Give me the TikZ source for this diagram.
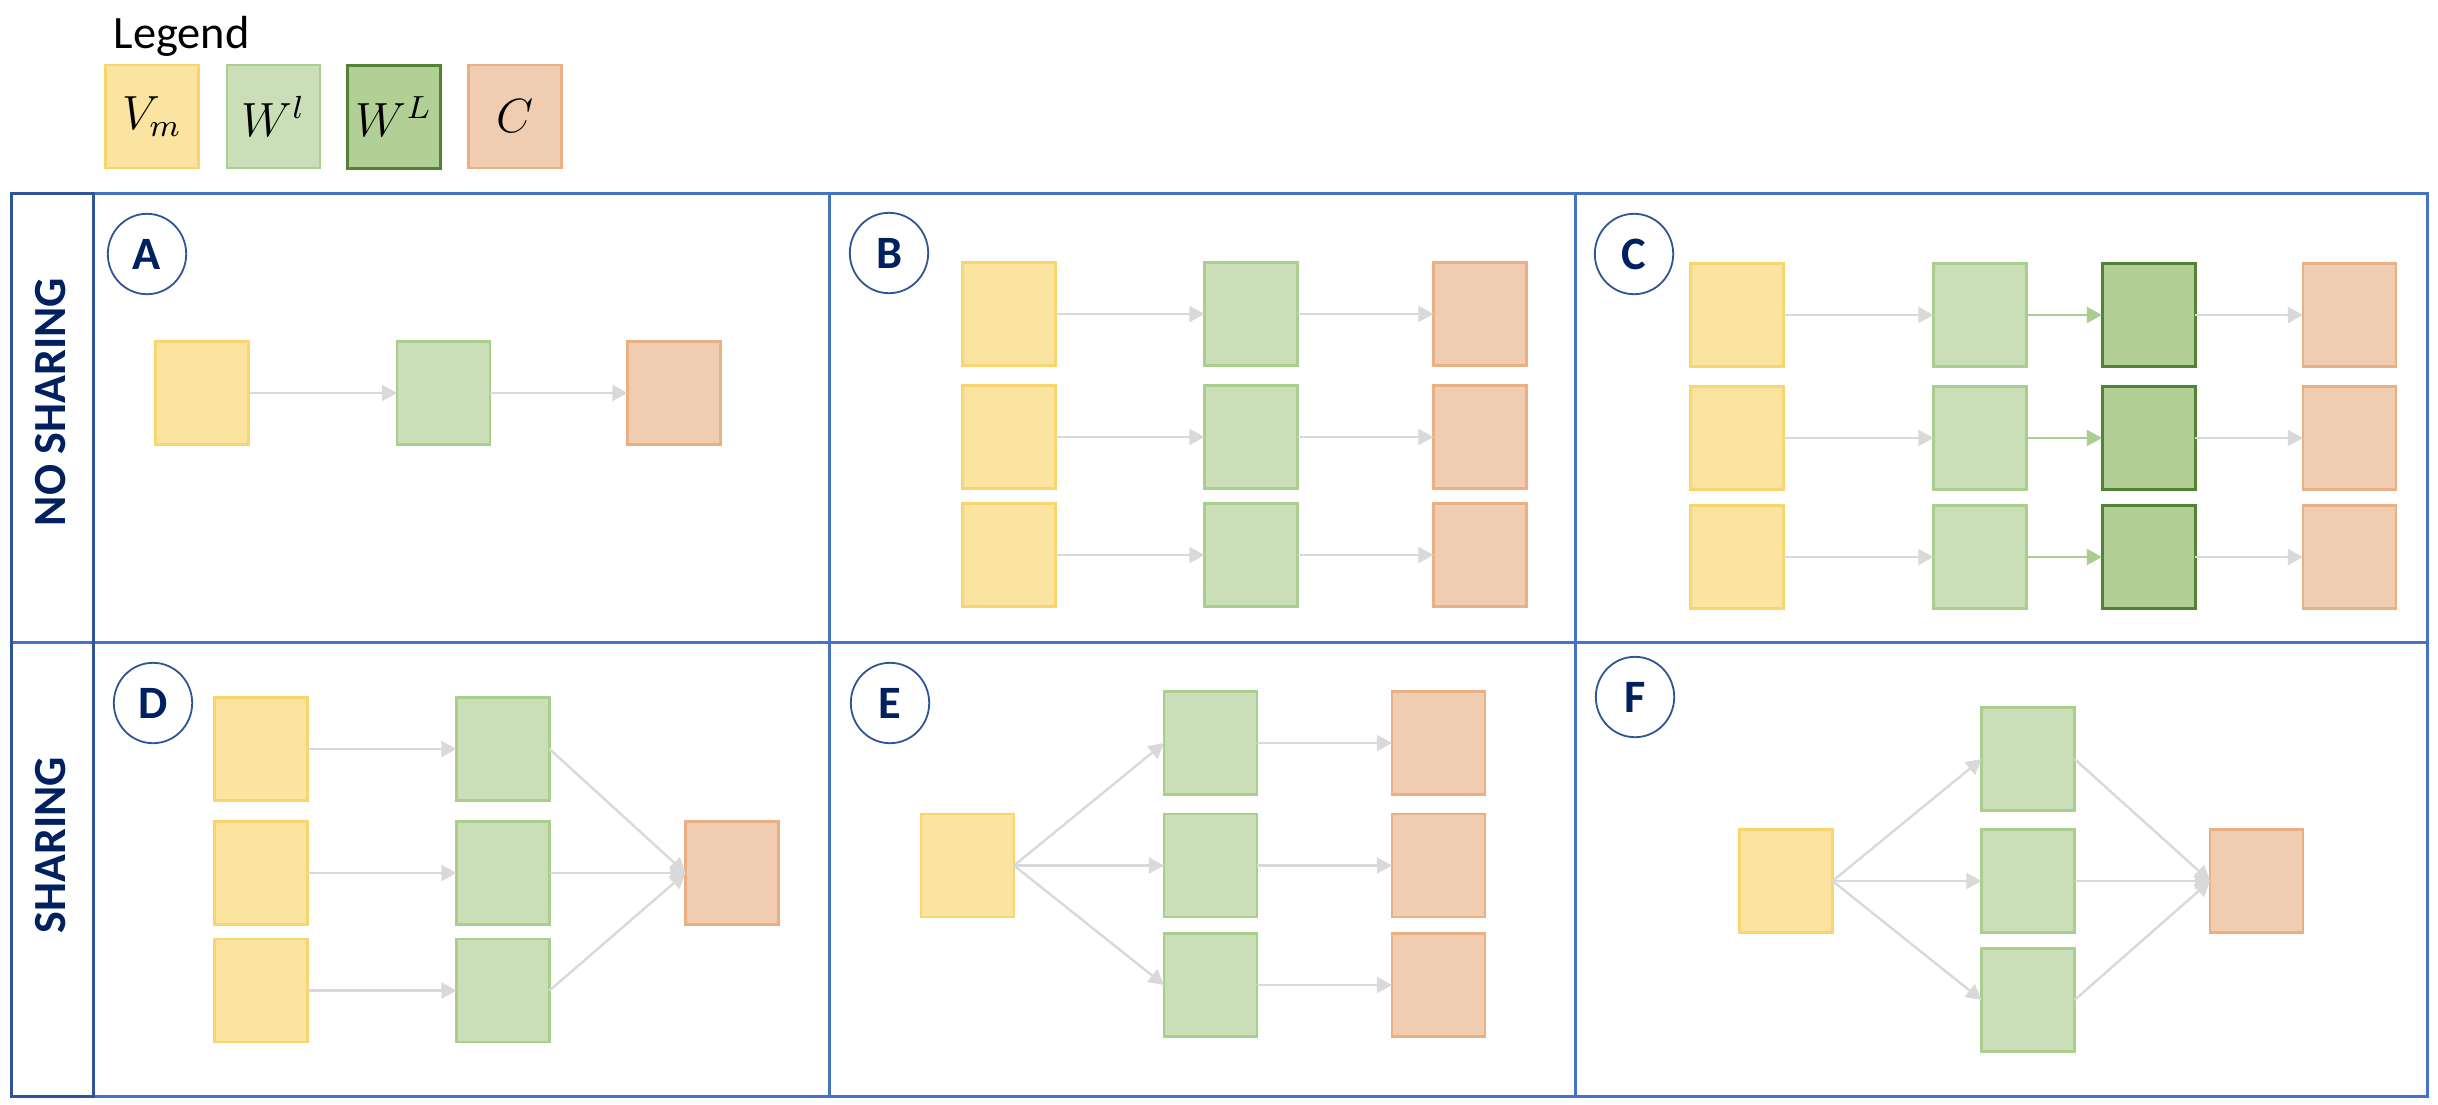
\documentclass[tikz,border=0pt]{standalone}
\usepackage{fontspec}
\setmainfont{Carlito}
\usetikzlibrary{arrows.meta}
\definecolor{yfill}{HTML}{FBE4A0}
\definecolor{ydraw}{HTML}{F8D56F}
\definecolor{gfill}{HTML}{CADFB8}
\definecolor{gdraw}{HTML}{A9CE8D}
\definecolor{dfill}{HTML}{B2CF96}
\definecolor{ddraw}{HTML}{548235}
\definecolor{cfill}{HTML}{F0CCB0}
\definecolor{cdraw}{HTML}{EBAF84}
\definecolor{arrgray}{HTML}{D9D9D9}
\definecolor{framelight}{HTML}{4472C4}
\definecolor{framedark}{HTML}{2F5597}
\definecolor{navy}{HTML}{002060}
\tikzset{
  box/.style={rectangle, minimum width=23.25pt, minimum height=25.75pt, line width=0.6pt, inner sep=0pt, outer sep=0pt, font=\fontsize{12}{14}\selectfont},
  ybox/.style={box, fill=yfill, draw=ydraw},
  gbox/.style={box, fill=gfill, draw=gdraw},
  dbox/.style={box, fill=dfill, draw=ddraw, line width=0.75pt},
  cbox/.style={box, fill=cfill, draw=cdraw},
  arr/.style={draw=arrgray, line width=0.6pt, -{Triangle[length=3.8pt,width=4pt]}},
  garr/.style={arr, draw=gdraw},
  tag/.style={ellipse, draw=framedark, line width=0.45pt, minimum width=19.6pt, minimum height=20.1pt, inner sep=0pt, text=navy, font=\fontsize{11.6}{12}\selectfont\bfseries},
  rowlabel/.style={rotate=90, text=navy, font=\fontsize{11.5}{12}\selectfont\bfseries, inner sep=0pt},
  frl/.style={draw=framelight, line width=0.75pt},
  frd/.style={draw=framedark, line width=0.75pt},
}
\usetikzlibrary{shapes.geometric}
\begin{document}
\begin{tikzpicture}[x=0.25pt,y=-0.25pt]
\useasboundingbox (0,0) rectangle (2438,1104);
\fill[white] (0,0) rectangle (2438,1104);

% legend
\node[anchor=base west, inner sep=0pt, font=\fontsize{11.6}{14}\selectfont] (legend) at (113,48) {Legend};
\node[ybox] (lv) at (152,116.5) {$V_m$};
\node[gbox] (lw) at (273.5,116.5) {$W^l$};
\node[dbox] (lW) at (394,116.5) {$W^L$};
\node[cbox] (lc) at (515,116.5) {$C$};

% frame
\draw[frl] (93,193) rectangle (2427,1096);
\draw[frl] (11,642) -- (2427,642);
\draw[frl] (829,193) -- (829,1096);
\draw[frl] (1575,193) -- (1575,1096);
\draw[frd] (11,193) rectangle (93,1096);

\node[rowlabel] (ns) at (51,402) {NO SHARING};
\node[rowlabel] (sh) at (51,845) {SHARING};

% tags
\node[tag] (tA) at (147,254) {A};
\node[tag] (tB) at (889,253) {B};
\node[tag] (tC) at (1634,254) {C};
\node[tag] (tD) at (153,703) {D};
\node[tag] (tE) at (890,703) {E};
\node[tag] (tF) at (1635,697) {F};

% panel A
\node[ybox] (a1) at (202,393) {};
\node[gbox] (a2) at (443.5,393) {};
\node[cbox] (a3) at (674,393) {};
\draw[arr] (a1.east) -- (a2.west);
\draw[arr] (a2.east) -- (a3.west);

% panel B
\foreach \r/\y in {1/314,2/437,3/555}{
  \node[ybox] (b\r1) at (1009,\y) {};
  \node[gbox] (b\r2) at (1251,\y) {};
  \node[cbox] (b\r3) at (1480,\y) {};
  \draw[arr] (b\r1.east) -- (b\r2.west);
  \draw[arr] (b\r2.east) -- (b\r3.west);
}

% panel C
\foreach \r/\y in {1/315,2/438,3/557}{
  \node[ybox] (c\r1) at (1737,\y) {};
  \node[gbox] (c\r2) at (1980,\y) {};
  \node[dbox] (c\r3) at (2148.5,\y) {};
  \node[cbox] (c\r4) at (2349.5,\y) {};
  \draw[arr] (c\r1.east) -- (c\r2.west);
  \draw[garr] (c\r2.east) -- (c\r3.west);
  \draw[arr] (c\r3.east) -- (c\r4.west);
}

% panel D
\node[cbox] (d0) at (732,873) {};
\foreach \r/\y in {1/749,2/873,3/990.5}{
  \node[ybox] (d\r1) at (261,\y) {};
  \node[gbox] (d\r2) at (503,\y) {};
  \draw[arr] (d\r1.east) -- (d\r2.west);
  \draw[arr] (d\r2.east) -- (d0.west);
}

% panel E
\node[ybox] (e0) at (967.5,865.5) {};
\foreach \r/\y in {1/743,2/865.5,3/985}{
  \node[gbox] (e\r2) at (1210.5,\y) {};
  \node[cbox] (e\r3) at (1438.5,\y) {};
  \draw[arr] (e0.east) -- (e\r2.west);
  \draw[arr] (e\r2.east) -- (e\r3.west);
}

% panel F
\node[ybox] (f0) at (1786,881) {};
\node[cbox] (f4) at (2256.5,881) {};
\foreach \r/\y in {1/759,2/881,3/1000}{
  \node[gbox] (f\r2) at (2028,\y) {};
  \draw[arr] (f0.east) -- (f\r2.west);
  \draw[arr] (f\r2.east) -- (f4.west);
}
\end{tikzpicture}
\end{document}
